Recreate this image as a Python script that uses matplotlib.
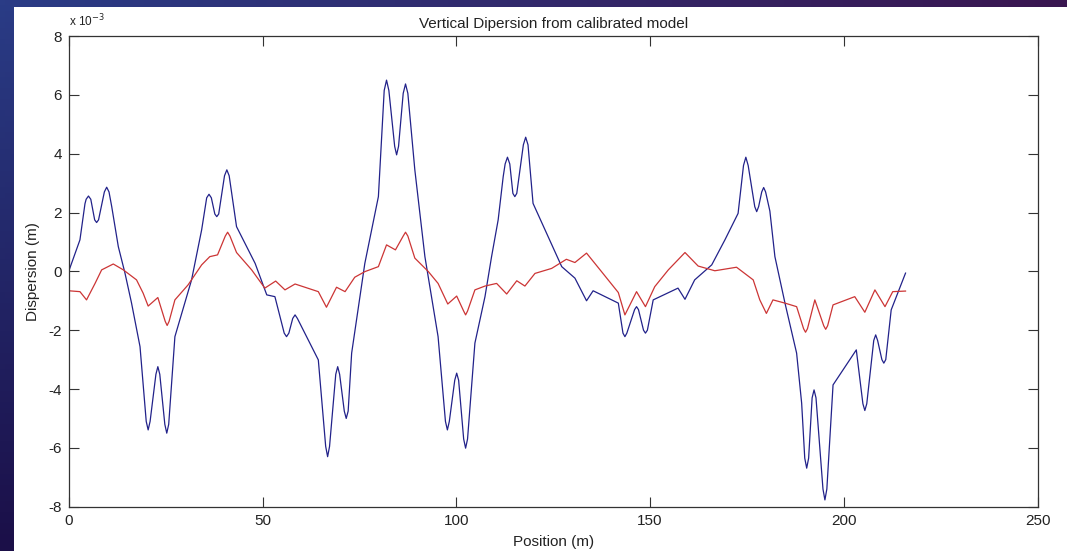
import numpy as np
import matplotlib
matplotlib.use("Agg")
import matplotlib.pyplot as plt
from matplotlib.patches import Rectangle

# Vertical dispersion along the ring (values in units of 1e-3 m)
pos_blue = [0.0, 2.9, 4.2, 4.5, 5.1, 5.7, 6.7, 7.2, 7.7, 9.2, 9.8, 10.4, 11.1, 12.8,
            14.5, 16.2, 18.4, 20.0, 20.5, 21.0, 22.5, 23.0, 23.5, 24.8, 25.3, 25.8,
            27.4, 31.7, 34.3, 35.6, 36.2, 36.8, 37.7, 38.2, 38.7, 40.2, 40.8, 41.4,
            43.3, 48.1, 51.1, 53.2, 55.6, 56.2, 56.8, 57.8, 58.4, 59.0, 64.4, 66.3,
            66.8, 67.3, 68.9, 69.4, 69.9, 71.1, 71.6, 72.1, 73.0, 76.4, 79.9, 81.4,
            82.0, 82.6, 84.1, 84.6, 85.1, 86.3, 86.9, 87.5, 89.3, 91.9, 95.3, 97.2,
            97.7, 98.2, 99.6, 100.1, 100.6, 101.9, 102.4, 102.9, 104.8, 107.4, 109.1,
            110.8, 112.1, 112.6, 113.2, 113.8, 114.6, 115.1, 115.6, 117.3, 117.9,
            118.5, 119.8, 122.9, 127.2, 130.6, 133.6, 135.3, 141.8, 143.0, 143.5,
            144.0, 146.0, 146.5, 147.0, 148.3, 148.8, 149.3, 150.8, 157.2, 159.0,
            161.5, 165.9, 169.3, 172.7, 174.1, 174.7, 175.3, 177.0, 177.5, 178.0,
            178.8, 179.3, 179.8, 180.9, 182.2, 184.8, 187.8, 189.1, 189.9, 190.4,
            190.9, 191.8, 192.3, 192.8, 194.6, 195.1, 195.6, 197.2, 203.2, 204.9,
            205.4, 205.9, 207.7, 208.2, 208.7, 209.8, 210.3, 210.8, 212.2, 215.9]
disp_blue = [0.0, 1.07, 2.3, 2.45, 2.56, 2.45, 1.75, 1.66, 1.75, 2.7, 2.86, 2.7, 2.2,
             0.84, -0.05, -1.07, -2.56, -5.1, -5.39, -5.1, -3.5, -3.24, -3.5, -5.2,
             -5.5, -5.2, -2.22, -0.29, 1.41, 2.5, 2.62, 2.5, 1.95, 1.86, 1.95, 3.25,
             3.45, 3.25, 1.52, 0.27, -0.80, -0.86, -2.1, -2.22, -2.1, -1.6, -1.48,
             -1.6, -3.01, -5.95, -6.3, -5.95, -3.5, -3.24, -3.5, -4.75, -5.0, -4.75,
             -2.78, 0.27, 2.54, 6.15, 6.5, 6.15, 4.25, 3.96, 4.25, 6.05, 6.37, 6.05,
             3.45, 0.5, -2.22, -5.1, -5.39, -5.1, -3.7, -3.46, -3.7, -5.7, -6.01,
             -5.7, -2.44, -0.86, 0.5, 1.75, 3.22, 3.65, 3.88, 3.65, 2.65, 2.54, 2.65,
             4.3, 4.56, 4.3, 2.31, 1.41, 0.16, -0.23, -1.0, -0.66, -1.08, -2.1,
             -2.22, -2.1, -1.3, -1.2, -1.3, -2.0, -2.1, -2.0, -0.97, -0.57, -0.95,
             -0.29, 0.22, 1.07, 1.97, 3.6, 3.88, 3.6, 2.2, 2.03, 2.2, 2.7, 2.85, 2.7,
             2.05, 0.5, -1.08, -2.78, -4.48, -6.35, -6.69, -6.35, -4.3, -4.03, -4.3,
             -7.4, -7.77, -7.4, -3.86, -2.67, -4.5, -4.73, -4.5, -2.35, -2.16, -2.35,
             -3.0, -3.12, -3.0, -1.31, -0.06]

pos_red = [0.0, 2.9, 4.6, 6.8, 8.5, 11.5, 14.1, 17.5, 19.2, 20.5, 23.0, 24.9, 25.4,
           25.9, 27.4, 30.8, 34.3, 36.4, 38.4, 40.4, 41.0, 41.6, 43.3, 47.2, 50.6,
           53.4, 55.8, 58.4, 64.4, 66.5, 69.1, 71.3, 73.8, 76.4, 79.9, 82.0, 84.3,
           86.3, 86.9, 87.5, 89.3, 92.8, 95.3, 97.8, 100.1, 101.9, 102.4, 102.9,
           104.8, 107.4, 110.4, 113.0, 115.6, 117.7, 120.3, 124.6, 128.4, 130.6,
           133.6, 137.1, 141.8, 143.5, 146.5, 148.8, 151.2, 154.7, 159.0, 162.4,
           166.7, 172.3, 176.6, 178.3, 180.0, 181.7, 184.8, 187.8, 189.6, 190.1,
           190.6, 192.5, 194.8, 195.3, 195.8, 197.2, 202.8, 205.4, 208.0, 210.6,
           212.6, 215.9]
disp_red = [-0.66, -0.69, -0.97, -0.41, 0.05, 0.25, 0.05, -0.29, -0.74, -1.18, -0.89,
            -1.7, -1.84, -1.7, -0.97, -0.46, 0.22, 0.5, 0.56, 1.2, 1.33, 1.2, 0.64,
            0.05, -0.57, -0.33, -0.63, -0.43, -0.69, -1.22, -0.54, -0.69, -0.2,
            -0.01, 0.16, 0.9, 0.73, 1.2, 1.33, 1.2, 0.45, -0.01, -0.41, -1.11, -0.84,
            -1.35, -1.48, -1.35, -0.63, -0.5, -0.41, -0.77, -0.32, -0.5, -0.07, 0.10,
            0.41, 0.3, 0.62, 0.05, -0.72, -1.48, -0.69, -1.2, -0.52, 0.05, 0.64,
            0.18, 0.02, 0.14, -0.29, -0.97, -1.43, -0.97, -1.08, -1.2, -1.95, -2.07,
            -1.95, -0.97, -1.85, -1.97, -1.85, -1.14, -0.86, -1.39, -0.63, -1.2,
            -0.69, -0.67]

x_ticks = [0, 50, 100, 150, 200, 250]
y_ticks = [-8, -6, -4, -2, 0, 2, 4, 6, 8]

plt.rcParams['font.family'] = ['Liberation Sans', 'DejaVu Sans']
plt.rcParams['axes.unicode_minus'] = False

W, H = 1067, 551
FS = 11
fig = plt.figure(figsize=(W / 100, H / 100), dpi=100)

# Slide-style gradient backdrop behind the figure panel
bg = fig.add_axes([0, 0, 1, 1], zorder=-10)
bg.set_axis_off()
gx = np.linspace(0, 1, 200)[None, :, None]
gy = np.linspace(0, 1, 100)[:, None, None]
tl = np.array([0x2a, 0x3c, 0x86]) / 255
tr = np.array([0x3a, 0x16, 0x50]) / 255
bl = np.array([0x1b, 0x0f, 0x48]) / 255
br = np.array([0x1b, 0x0f, 0x48]) / 255
img = (tl * (1 - gx) * (1 - gy) + tr * gx * (1 - gy)
       + bl * (1 - gx) * gy + br * gx * gy)
bg.imshow(img, extent=[0, 1, 0, 1], aspect='auto', origin='upper')
bg.add_patch(Rectangle((14 / W, 0), 1 - 14 / W, 1 - 7 / H,
                       facecolor='white', edgecolor='none'))
bg.set_xlim(0, 1)
bg.set_ylim(0, 1)

ax = fig.add_axes([68.7 / W, 1 - 506.7 / H, (1037.7 - 68.7) / W, (506.7 - 36) / H])
ax.set_facecolor('white')
ax.plot(pos_blue, disp_blue, color='#22228a', lw=0.9)
ax.plot(pos_red, disp_red, color='#cc3535', lw=0.9)

ax.set_xlim(0, 250)
ax.set_ylim(-8, 8)
ax.set_xticks(x_ticks)
ax.set_yticks(y_ticks)
ax.tick_params(direction='in', length=7.2, width=0.8, color='#333333',
               labelsize=FS, labelcolor='#222222', top=True, right=True,
               pad=5)
for s in ax.spines.values():
    s.set_color('#333333')
    s.set_linewidth(0.9)

ax.set_title('Vertical Dipersion from calibrated model', fontsize=FS,
             color='#222222', pad=6)
ax.set_xlabel('Position (m)', fontsize=FS, color='#222222', labelpad=5)
ax.set_ylabel('Dispersion (m)', fontsize=FS, color='#222222', labelpad=6)
ax.text(0.0, 1.014, r'x 10$^{-3}$', transform=ax.transAxes, fontsize=8.5,
        color='#222222', ha='left', va='bottom')

fig.savefig('out.png', dpi=100)
